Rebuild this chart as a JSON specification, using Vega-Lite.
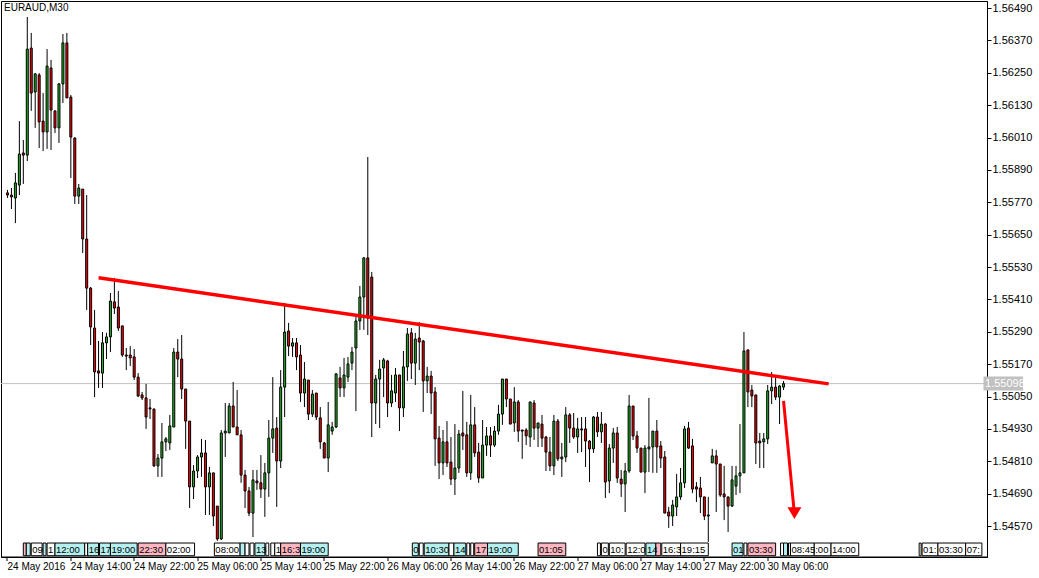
{
"$schema":"https://vega.github.io/schema/vega-lite/v6.json",
"width":986,"height":556,
"autosize":{"type":"none"},
"padding":{"left":1,"top":1,"right":52,"bottom":21},
"background":"#ffffff",
"title":{"text":"EURAUD,M30","anchor":"start","frame":"group","offset":-12,"dx":3,"font":"Liberation Sans","fontSize":10,"fontWeight":"normal","color":"#000000"},
"datasets":{
"candles":[
{"i":0,"o":1.55805,"h":1.55816,"l":1.55786,"c":1.55797},
{"i":1,"o":1.55797,"h":1.55823,"l":1.55745,"c":1.55790},
{"i":2,"o":1.55786,"h":1.55879,"l":1.55693,"c":1.55842},
{"i":3,"o":1.55834,"h":1.56071,"l":1.55797,"c":1.55949},
{"i":4,"o":1.55953,"h":1.56001,"l":1.55838,"c":1.55945},
{"i":5,"o":1.55945,"h":1.56457,"l":1.55923,"c":1.56338},
{"i":6,"o":1.56342,"h":1.56398,"l":1.56109,"c":1.56175},
{"i":7,"o":1.56179,"h":1.56249,"l":1.56046,"c":1.56246},
{"i":8,"o":1.56242,"h":1.56249,"l":1.55971,"c":1.56068},
{"i":9,"o":1.56071,"h":1.56175,"l":1.55960,"c":1.56031},
{"i":10,"o":1.56031,"h":1.56338,"l":1.55968,"c":1.56275},
{"i":11,"o":1.56268,"h":1.56298,"l":1.55964,"c":1.56112},
{"i":12,"o":1.56109,"h":1.56109,"l":1.56027,"c":1.56046},
{"i":13,"o":1.56046,"h":1.56212,"l":1.55990,"c":1.56209},
{"i":14,"o":1.56209,"h":1.56394,"l":1.56138,"c":1.56361},
{"i":15,"o":1.56361,"h":1.56398,"l":1.56157,"c":1.56157},
{"i":16,"o":1.56160,"h":1.56168,"l":1.55860,"c":1.56012},
{"i":17,"o":1.56008,"h":1.56012,"l":1.55764,"c":1.55793},
{"i":18,"o":1.55793,"h":1.55838,"l":1.55764,"c":1.55823},
{"i":19,"o":1.55819,"h":1.55819,"l":1.55582,"c":1.55634},
{"i":20,"o":1.55634,"h":1.55797,"l":1.55371,"c":1.55452},
{"i":21,"o":1.55452,"h":1.55456,"l":1.55241,"c":1.55308},
{"i":22,"o":1.55304,"h":1.55371,"l":1.55048,"c":1.55141},
{"i":23,"o":1.55145,"h":1.55256,"l":1.55082,"c":1.55137},
{"i":24,"o":1.55137,"h":1.55289,"l":1.55082,"c":1.55249},
{"i":25,"o":1.55249,"h":1.55286,"l":1.55189,"c":1.55271},
{"i":26,"o":1.55271,"h":1.55434,"l":1.55215,"c":1.55404},
{"i":27,"o":1.55401,"h":1.55490,"l":1.55356,"c":1.55378},
{"i":28,"o":1.55382,"h":1.55441,"l":1.55293,"c":1.55304},
{"i":29,"o":1.55312,"h":1.55312,"l":1.55197,"c":1.55204},
{"i":30,"o":1.55204,"h":1.55230,"l":1.55148,"c":1.55200},
{"i":31,"o":1.55204,"h":1.55237,"l":1.55163,"c":1.55193},
{"i":32,"o":1.55197,"h":1.55226,"l":1.55111,"c":1.55122},
{"i":33,"o":1.55122,"h":1.55137,"l":1.55048,"c":1.55052},
{"i":34,"o":1.55056,"h":1.55067,"l":1.55037,"c":1.55045},
{"i":35,"o":1.55045,"h":1.55097,"l":1.54930,"c":1.54974},
{"i":36,"o":1.55008,"h":1.55041,"l":1.54967,"c":1.55004},
{"i":37,"o":1.55004,"h":1.55004,"l":1.54789,"c":1.54793},
{"i":38,"o":1.54793,"h":1.54837,"l":1.54752,"c":1.54822},
{"i":39,"o":1.54822,"h":1.54952,"l":1.54752,"c":1.54882},
{"i":40,"o":1.54882,"h":1.54900,"l":1.54848,"c":1.54893},
{"i":41,"o":1.54878,"h":1.54982,"l":1.54852,"c":1.54941},
{"i":42,"o":1.54937,"h":1.55230,"l":1.54937,"c":1.55215},
{"i":43,"o":1.55215,"h":1.55263,"l":1.55122,"c":1.55189},
{"i":44,"o":1.55189,"h":1.55278,"l":1.55041,"c":1.55078},
{"i":45,"o":1.55078,"h":1.55078,"l":1.54856,"c":1.54959},
{"i":46,"o":1.54959,"h":1.54959,"l":1.54637,"c":1.54715},
{"i":47,"o":1.54715,"h":1.54796,"l":1.54670,"c":1.54774},
{"i":48,"o":1.54774,"h":1.54833,"l":1.54748,"c":1.54826},
{"i":49,"o":1.54826,"h":1.54893,"l":1.54752,"c":1.54841},
{"i":50,"o":1.54841,"h":1.54889,"l":1.54611,"c":1.54715},
{"i":51,"o":1.54715,"h":1.54789,"l":1.54611,"c":1.54767},
{"i":52,"o":1.54767,"h":1.54767,"l":1.54570,"c":1.54607},
{"i":53,"o":1.54644,"h":1.54644,"l":1.54515,"c":1.54522},
{"i":54,"o":1.54522,"h":1.54926,"l":1.54518,"c":1.54915},
{"i":55,"o":1.54915,"h":1.55026,"l":1.54826,"c":1.54922},
{"i":56,"o":1.54915,"h":1.55026,"l":1.54915,"c":1.55015},
{"i":57,"o":1.55015,"h":1.55104,"l":1.54937,"c":1.54937},
{"i":58,"o":1.54937,"h":1.55074,"l":1.54908,"c":1.54908},
{"i":59,"o":1.54908,"h":1.54926,"l":1.54730,"c":1.54759},
{"i":60,"o":1.54759,"h":1.54778,"l":1.54637,"c":1.54700},
{"i":61,"o":1.54700,"h":1.54715,"l":1.54607,"c":1.54618},
{"i":62,"o":1.54618,"h":1.54778,"l":1.54529,"c":1.54741},
{"i":63,"o":1.54737,"h":1.54778,"l":1.54704,"c":1.54730},
{"i":64,"o":1.54730,"h":1.54833,"l":1.54674,"c":1.54707},
{"i":65,"o":1.54707,"h":1.54804,"l":1.54604,"c":1.54767},
{"i":66,"o":1.54767,"h":1.54963,"l":1.54678,"c":1.54896},
{"i":67,"o":1.54896,"h":1.55122,"l":1.54841,"c":1.54930},
{"i":68,"o":1.54933,"h":1.54974,"l":1.54641,"c":1.54811},
{"i":69,"o":1.54811,"h":1.55148,"l":1.54785,"c":1.55085},
{"i":70,"o":1.55085,"h":1.55397,"l":1.54974,"c":1.55289},
{"i":71,"o":1.55293,"h":1.55323,"l":1.55200,"c":1.55237},
{"i":72,"o":1.55237,"h":1.55267,"l":1.55197,"c":1.55249},
{"i":73,"o":1.55249,"h":1.55267,"l":1.55148,"c":1.55197},
{"i":74,"o":1.55204,"h":1.55241,"l":1.55030,"c":1.55063},
{"i":75,"o":1.55063,"h":1.55178,"l":1.55011,"c":1.55115},
{"i":76,"o":1.55111,"h":1.55111,"l":1.54963,"c":1.54985},
{"i":77,"o":1.54985,"h":1.55074,"l":1.54974,"c":1.55059},
{"i":78,"o":1.55063,"h":1.55063,"l":1.54963,"c":1.54974},
{"i":79,"o":1.54971,"h":1.55011,"l":1.54856,"c":1.54882},
{"i":80,"o":1.54878,"h":1.54882,"l":1.54822,"c":1.54822},
{"i":81,"o":1.54822,"h":1.55030,"l":1.54770,"c":1.54945},
{"i":82,"o":1.54922,"h":1.54956,"l":1.54908,"c":1.54937},
{"i":83,"o":1.54937,"h":1.55137,"l":1.54933,"c":1.55134},
{"i":84,"o":1.55119,"h":1.55160,"l":1.55048,"c":1.55082},
{"i":85,"o":1.55082,"h":1.55193,"l":1.55048,"c":1.55130},
{"i":86,"o":1.55122,"h":1.55197,"l":1.55104,"c":1.55171},
{"i":87,"o":1.55174,"h":1.55234,"l":1.55148,"c":1.55215},
{"i":88,"o":1.55230,"h":1.55345,"l":1.54996,"c":1.55330},
{"i":89,"o":1.55330,"h":1.55460,"l":1.55297,"c":1.55419},
{"i":90,"o":1.55419,"h":1.55567,"l":1.55297,"c":1.55564},
{"i":91,"o":1.55564,"h":1.55938,"l":1.55278,"c":1.55341},
{"i":92,"o":1.55493,"h":1.55512,"l":1.54900,"c":1.55026},
{"i":93,"o":1.55026,"h":1.55130,"l":1.54948,"c":1.55115},
{"i":94,"o":1.55115,"h":1.55186,"l":1.54933,"c":1.55152},
{"i":95,"o":1.55156,"h":1.55193,"l":1.55048,"c":1.55186},
{"i":96,"o":1.55182,"h":1.55186,"l":1.54974,"c":1.55026},
{"i":97,"o":1.55026,"h":1.55130,"l":1.55011,"c":1.55071},
{"i":98,"o":1.55063,"h":1.55156,"l":1.55030,"c":1.55130},
{"i":99,"o":1.55130,"h":1.55130,"l":1.54922,"c":1.55008},
{"i":100,"o":1.55008,"h":1.55219,"l":1.54974,"c":1.55160},
{"i":101,"o":1.55160,"h":1.55304,"l":1.55108,"c":1.55282},
{"i":102,"o":1.55286,"h":1.55304,"l":1.55115,"c":1.55174},
{"i":103,"o":1.55174,"h":1.55286,"l":1.55093,"c":1.55263},
{"i":104,"o":1.55267,"h":1.55326,"l":1.55148,"c":1.55252},
{"i":105,"o":1.55256,"h":1.55260,"l":1.54993,"c":1.55108},
{"i":106,"o":1.55108,"h":1.55160,"l":1.55063,"c":1.55126},
{"i":107,"o":1.55126,"h":1.55145,"l":1.54985,"c":1.55063},
{"i":108,"o":1.55067,"h":1.55085,"l":1.54793,"c":1.54893},
{"i":109,"o":1.54896,"h":1.54941,"l":1.54744,"c":1.54804},
{"i":110,"o":1.54804,"h":1.54926,"l":1.54759,"c":1.54882},
{"i":111,"o":1.54882,"h":1.54959,"l":1.54789,"c":1.54804},
{"i":112,"o":1.54807,"h":1.54900,"l":1.54722,"c":1.54744},
{"i":113,"o":1.54744,"h":1.54948,"l":1.54685,"c":1.54785},
{"i":114,"o":1.54785,"h":1.54926,"l":1.54767,"c":1.54911},
{"i":115,"o":1.54915,"h":1.55071,"l":1.54852,"c":1.54904},
{"i":116,"o":1.54908,"h":1.54956,"l":1.54752,"c":1.54767},
{"i":117,"o":1.54767,"h":1.55056,"l":1.54741,"c":1.54945},
{"i":118,"o":1.54945,"h":1.55011,"l":1.54826,"c":1.54841},
{"i":119,"o":1.54844,"h":1.54878,"l":1.54730,"c":1.54748},
{"i":120,"o":1.54748,"h":1.54963,"l":1.54748,"c":1.54870},
{"i":121,"o":1.54870,"h":1.54937,"l":1.54830,"c":1.54904},
{"i":122,"o":1.54904,"h":1.54937,"l":1.54826,"c":1.54870},
{"i":123,"o":1.54870,"h":1.54941,"l":1.54863,"c":1.54922},
{"i":124,"o":1.54922,"h":1.55019,"l":1.54908,"c":1.54985},
{"i":125,"o":1.54985,"h":1.55115,"l":1.54945,"c":1.55115},
{"i":126,"o":1.55115,"h":1.55115,"l":1.55011,"c":1.55041},
{"i":127,"o":1.55041,"h":1.55041,"l":1.54948,"c":1.54948},
{"i":128,"o":1.54952,"h":1.55085,"l":1.54919,"c":1.55030},
{"i":129,"o":1.55030,"h":1.55037,"l":1.54882,"c":1.54922},
{"i":130,"o":1.54926,"h":1.54926,"l":1.54819,"c":1.54922},
{"i":131,"o":1.54926,"h":1.54933,"l":1.54870,"c":1.54904},
{"i":132,"o":1.54900,"h":1.55030,"l":1.54863,"c":1.55030},
{"i":133,"o":1.55026,"h":1.55037,"l":1.54889,"c":1.54933},
{"i":134,"o":1.54933,"h":1.54952,"l":1.54863,"c":1.54952},
{"i":135,"o":1.54948,"h":1.54982,"l":1.54863,"c":1.54896},
{"i":136,"o":1.54900,"h":1.54904,"l":1.54774,"c":1.54844},
{"i":137,"o":1.54844,"h":1.54900,"l":1.54774,"c":1.54793},
{"i":138,"o":1.54793,"h":1.54982,"l":1.54759,"c":1.54959},
{"i":139,"o":1.54959,"h":1.54967,"l":1.54811,"c":1.54819},
{"i":140,"o":1.54819,"h":1.54878,"l":1.54752,"c":1.54826},
{"i":141,"o":1.54826,"h":1.55011,"l":1.54807,"c":1.54982},
{"i":142,"o":1.54982,"h":1.54989,"l":1.54878,"c":1.54933},
{"i":143,"o":1.54933,"h":1.54989,"l":1.54893,"c":1.54900},
{"i":144,"o":1.54900,"h":1.54971,"l":1.54841,"c":1.54930},
{"i":145,"o":1.54930,"h":1.54974,"l":1.54844,"c":1.54926},
{"i":146,"o":1.54930,"h":1.54974,"l":1.54789,"c":1.54885},
{"i":147,"o":1.54885,"h":1.54889,"l":1.54733,"c":1.54856},
{"i":148,"o":1.54856,"h":1.54978,"l":1.54841,"c":1.54974},
{"i":149,"o":1.54974,"h":1.54993,"l":1.54900,"c":1.54919},
{"i":150,"o":1.54919,"h":1.54993,"l":1.54878,"c":1.54948},
{"i":151,"o":1.54948,"h":1.54952,"l":1.54674,"c":1.54733},
{"i":152,"o":1.54737,"h":1.54874,"l":1.54692,"c":1.54859},
{"i":153,"o":1.54859,"h":1.54933,"l":1.54804,"c":1.54915},
{"i":154,"o":1.54915,"h":1.54937,"l":1.54730,"c":1.54748},
{"i":155,"o":1.54744,"h":1.54778,"l":1.54678,"c":1.54726},
{"i":156,"o":1.54726,"h":1.54804,"l":1.54622,"c":1.54774},
{"i":157,"o":1.54774,"h":1.55056,"l":1.54767,"c":1.55015},
{"i":158,"o":1.55015,"h":1.55015,"l":1.54889,"c":1.54904},
{"i":159,"o":1.54904,"h":1.54922,"l":1.54841,"c":1.54859},
{"i":160,"o":1.54859,"h":1.54859,"l":1.54770,"c":1.54770},
{"i":161,"o":1.54770,"h":1.54870,"l":1.54692,"c":1.54859},
{"i":162,"o":1.54856,"h":1.55045,"l":1.54770,"c":1.54863},
{"i":163,"o":1.54863,"h":1.54922,"l":1.54767,"c":1.54922},
{"i":164,"o":1.54922,"h":1.54963,"l":1.54767,"c":1.54863},
{"i":165,"o":1.54867,"h":1.54885,"l":1.54785,"c":1.54822},
{"i":166,"o":1.54826,"h":1.54848,"l":1.54618,"c":1.54618},
{"i":167,"o":1.54622,"h":1.54641,"l":1.54563,"c":1.54607},
{"i":168,"o":1.54607,"h":1.54667,"l":1.54570,"c":1.54648},
{"i":169,"o":1.54641,"h":1.54763,"l":1.54607,"c":1.54678},
{"i":170,"o":1.54678,"h":1.54785,"l":1.54667,"c":1.54730},
{"i":171,"o":1.54730,"h":1.54941,"l":1.54711,"c":1.54930},
{"i":172,"o":1.54933,"h":1.54956,"l":1.54856,"c":1.54859},
{"i":173,"o":1.54867,"h":1.54893,"l":1.54692,"c":1.54707},
{"i":174,"o":1.54715,"h":1.54733,"l":1.54659,"c":1.54707},
{"i":175,"o":1.54711,"h":1.54752,"l":1.54618,"c":1.54678},
{"i":176,"o":1.54678,"h":1.54678,"l":1.54592,"c":1.54607},
{"i":177,"o":1.54611,"h":1.54678,"l":1.54511,"c":1.54607},
{"i":178,"o":1.54804,"h":1.54856,"l":1.54804,"c":1.54830},
{"i":179,"o":1.54830,"h":1.54852,"l":1.54622,"c":1.54800},
{"i":180,"o":1.54800,"h":1.54800,"l":1.54678,"c":1.54685},
{"i":181,"o":1.54689,"h":1.54793,"l":1.54592,"c":1.54678},
{"i":182,"o":1.54678,"h":1.54678,"l":1.54548,"c":1.54644},
{"i":183,"o":1.54644,"h":1.54793,"l":1.54641,"c":1.54741},
{"i":184,"o":1.54718,"h":1.54793,"l":1.54685,"c":1.54756},
{"i":185,"o":1.54756,"h":1.54948,"l":1.54692,"c":1.54767},
{"i":186,"o":1.54767,"h":1.55289,"l":1.54767,"c":1.55219},
{"i":187,"o":1.55223,"h":1.55223,"l":1.55011,"c":1.55067},
{"i":188,"o":1.55074,"h":1.55093,"l":1.55011,"c":1.55052},
{"i":189,"o":1.55056,"h":1.55056,"l":1.54800,"c":1.54878},
{"i":190,"o":1.54885,"h":1.54915,"l":1.54785,"c":1.54878},
{"i":191,"o":1.54882,"h":1.54915,"l":1.54785,"c":1.54893},
{"i":192,"o":1.54893,"h":1.55093,"l":1.54874,"c":1.55071},
{"i":193,"o":1.55071,"h":1.55141,"l":1.55022,"c":1.55085},
{"i":194,"o":1.55085,"h":1.55130,"l":1.55037,"c":1.55048},
{"i":195,"o":1.55048,"h":1.55093,"l":1.54948,"c":1.55089},
{"i":196,"o":1.55085,"h":1.55108,"l":1.55074,"c":1.55098}
],
"events":[
{"t0":4,"t1":4.75,"label":"","kind":"p"},
{"t0":4.75,"t1":5.75,"label":"","kind":"c"},
{"t0":6,"t1":8.75,"label":"09","kind":"w"},
{"t0":9,"t1":9.75,"label":"","kind":"c"},
{"t0":10,"t1":12,"label":"1","kind":"w"},
{"t0":12,"t1":19.5,"label":"12:00","kind":"c"},
{"t0":19.5,"t1":20.25,"label":"","kind":"w"},
{"t0":20.25,"t1":23,"label":"16","kind":"c"},
{"t0":23.25,"t1":26,"label":"17","kind":"c"},
{"t0":26,"t1":32.75,"label":"19:00","kind":"c"},
{"t0":33,"t1":40,"label":"22:30","kind":"p"},
{"t0":40,"t1":47.25,"label":"02:00","kind":"w"},
{"t0":52.25,"t1":58.75,"label":"08:00","kind":"w"},
{"t0":58.75,"t1":60,"label":"","kind":"c"},
{"t0":60,"t1":61,"label":"","kind":"w"},
{"t0":61.25,"t1":62.25,"label":"","kind":"w"},
{"t0":62.5,"t1":65,"label":"13","kind":"c"},
{"t0":65.25,"t1":66,"label":"","kind":"w"},
{"t0":66.5,"t1":67.5,"label":"","kind":"w"},
{"t0":67.5,"t1":69,"label":"1","kind":"w"},
{"t0":69,"t1":74,"label":"16:3","kind":"p"},
{"t0":74,"t1":81,"label":"19:00","kind":"c"},
{"t0":102.25,"t1":103.75,"label":"0","kind":"c"},
{"t0":104,"t1":105,"label":"","kind":"w"},
{"t0":105.25,"t1":111.5,"label":"10:30","kind":"c"},
{"t0":111.5,"t1":112.75,"label":"","kind":"w"},
{"t0":112.75,"t1":115.75,"label":"14","kind":"c"},
{"t0":116,"t1":116.75,"label":"","kind":"w"},
{"t0":117,"t1":117.75,"label":"","kind":"w"},
{"t0":118,"t1":121.25,"label":"17:","kind":"p"},
{"t0":121.25,"t1":129,"label":"19:00","kind":"c"},
{"t0":134,"t1":141,"label":"01:05","kind":"p"},
{"t0":149,"t1":149.75,"label":"","kind":"w"},
{"t0":150,"t1":151.75,"label":"0","kind":"w"},
{"t0":152,"t1":156,"label":"10:","kind":"w"},
{"t0":156.25,"t1":161,"label":"12:0","kind":"w"},
{"t0":161.25,"t1":163.75,"label":"14","kind":"c"},
{"t0":163.75,"t1":165,"label":"","kind":"p"},
{"t0":165.25,"t1":170,"label":"16:3","kind":"w"},
{"t0":170,"t1":177,"label":"19:15","kind":"w"},
{"t0":183,"t1":185.75,"label":"01","kind":"c"},
{"t0":186,"t1":186.75,"label":"","kind":"w"},
{"t0":187,"t1":194,"label":"03:30","kind":"p"},
{"t0":195.25,"t1":196,"label":"","kind":"w"},
{"t0":196,"t1":197,"label":"","kind":"c"},
{"t0":197.25,"t1":197.75,"label":"","kind":"w"},
{"t0":197.75,"t1":203.75,"label":"08:45","kind":"w"},
{"t0":203.75,"t1":208,"label":":00","kind":"w"},
{"t0":208,"t1":215,"label":"14:00","kind":"w"},
{"t0":230.25,"t1":230.75,"label":"","kind":"w"},
{"t0":231,"t1":235,"label":"01:","kind":"w"},
{"t0":235,"t1":242,"label":"03:30","kind":"w"},
{"t0":242,"t1":246.1,"label":"07:","kind":"w"}
]
},
"layer":[
{
"data":{"values":[{"p":1.55098}]},
"mark":{"type":"rule","color":"#c0c0c0","strokeWidth":1},
"encoding":{
"y":{"field":"p","type":"quantitative","title":null,
"scale":{"domain":[1.544552,1.565163],"nice":false,"zero":false},
"axis":{"orient":"right","values":[1.5457,1.5469,1.5481,1.5493,1.5505,1.5517,1.5529,1.5541,1.5553,1.5565,1.5577,1.5589,1.5601,1.5613,1.5625,1.5637,1.5649],"tickCount":40,"format":".5f","tickSize":4,"labelPadding":1,"labelFont":"Liberation Sans","labelFontSize":11,"labelColor":"#000000","tickColor":"#000000","domainColor":"#000000","grid":false,"labelOverlap":false,"labelBound":false,"labelFlush":false}}
}
},
{
"data":{"name":"candles"},
"mark":{"type":"rule","color":"#000000","strokeWidth":1},
"encoding":{
"x":{"field":"i","type":"quantitative","title":null,
"scale":{"domain":[-0.375,246.125],"nice":false,"zero":false},
"axis":{"values":[0,16,32,48,64,80,96,112,128,144,160,176,192],"tickCount":40,
"labelExpr":"['24 May 2016','24 May 14:00','24 May 22:00','25 May 06:00','25 May 14:00','25 May 22:00','26 May 06:00','26 May 14:00','26 May 22:00','27 May 06:00','27 May 14:00','27 May 22:00','30 May 06:00'][round(datum.value/16)]",
"labelAlign":"left","labelBaseline":"top","labelPadding":1,"tickSize":4,"translate":0,"labelFont":"Liberation Sans","labelFontSize":10,"labelColor":"#000000","tickColor":"#000000","domainColor":"#000000","grid":false,"labelOverlap":false,"labelBound":false,"labelFlush":false}},
"y":{"field":"l","type":"quantitative","title":null},
"y2":{"field":"h"}
}
},
{
"data":{"name":"candles"},
"mark":{"type":"bar","size":2,"stroke":"#000000","strokeWidth":1},
"encoding":{
"x":{"field":"i","type":"quantitative","title":null},
"y":{"field":"o","type":"quantitative","title":null},
"y2":{"field":"c"},
"fill":{"condition":{"test":"datum.c >= datum.o","value":"#22b422"},"value":"#ff0000"}
}
},
{
"data":{"values":[{"i":23,"p":1.5549},{"i":207.4,"p":1.55097}]},
"mark":{"type":"line","color":"#ff0000","strokeWidth":3.5},
"encoding":{
"x":{"field":"i","type":"quantitative","title":null},
"y":{"field":"p","type":"quantitative","title":null}
}
},
{
"data":{"name":"events"},
"mark":{"type":"rect","stroke":"#000000","strokeWidth":1},
"encoding":{
"x":{"field":"t0","type":"quantitative","title":null},
"x2":{"field":"t1"},
"y":{"datum":1.54507,"type":"quantitative"},
"y2":{"datum":1.5446},
"fill":{"field":"kind","type":"nominal","legend":null,"scale":{"domain":["c","p","w"],"range":["#b4f0f0","#ffb6c1","#ffffff"]}}
}
},
{
"data":{"name":"events"},
"mark":{"type":"text","align":"left","baseline":"middle","dx":1,"font":"Liberation Sans","fontSize":9.5,"color":"#000000"},
"encoding":{
"x":{"field":"t0","type":"quantitative","title":null},
"y":{"datum":1.54483,"type":"quantitative"},
"text":{"field":"label"}
}
},
{
"data":{"values":[{"i":196,"p":1.55034},{"i":198.6,"p":1.54637}]},
"mark":{"type":"line","color":"#ff0000","strokeWidth":3},
"encoding":{
"x":{"field":"i","type":"quantitative","title":null},
"y":{"field":"p","type":"quantitative","title":null}
}
},
{
"data":{"values":[{"i":198.75,"p":1.54618}]},
"mark":{"type":"point","filled":true,"color":"#ff0000","opacity":1,"size":196,"shape":"M-1,-0.85L1,-0.85L0,0.85Z"},
"encoding":{
"x":{"field":"i","type":"quantitative","title":null},
"y":{"field":"p","type":"quantitative","title":null}
}
},
{
"data":{"values":[{"p":1.55098}]},
"mark":{"type":"rect","color":"#c0c0c0"},
"encoding":{
"x":{"datum":246.5,"type":"quantitative"},
"x2":{"datum":256.5},
"y":{"datum":1.55124,"type":"quantitative"},
"y2":{"datum":1.55072}
}
},
{
"data":{"values":[{"p":1.55098}]},
"mark":{"type":"text","align":"left","baseline":"middle","color":"#ffffff","font":"Liberation Sans","fontSize":11},
"encoding":{
"x":{"datum":246.9,"type":"quantitative"},
"y":{"field":"p","type":"quantitative","title":null},
"text":{"field":"p","type":"quantitative","format":".5f"}
}
}
],
"config":{"view":{"stroke":"#000000","strokeWidth":1},"font":"Liberation Sans",
"axis":{"labelOverlap":false,"labelBound":false,"labelFlush":false,"grid":false}}
}
